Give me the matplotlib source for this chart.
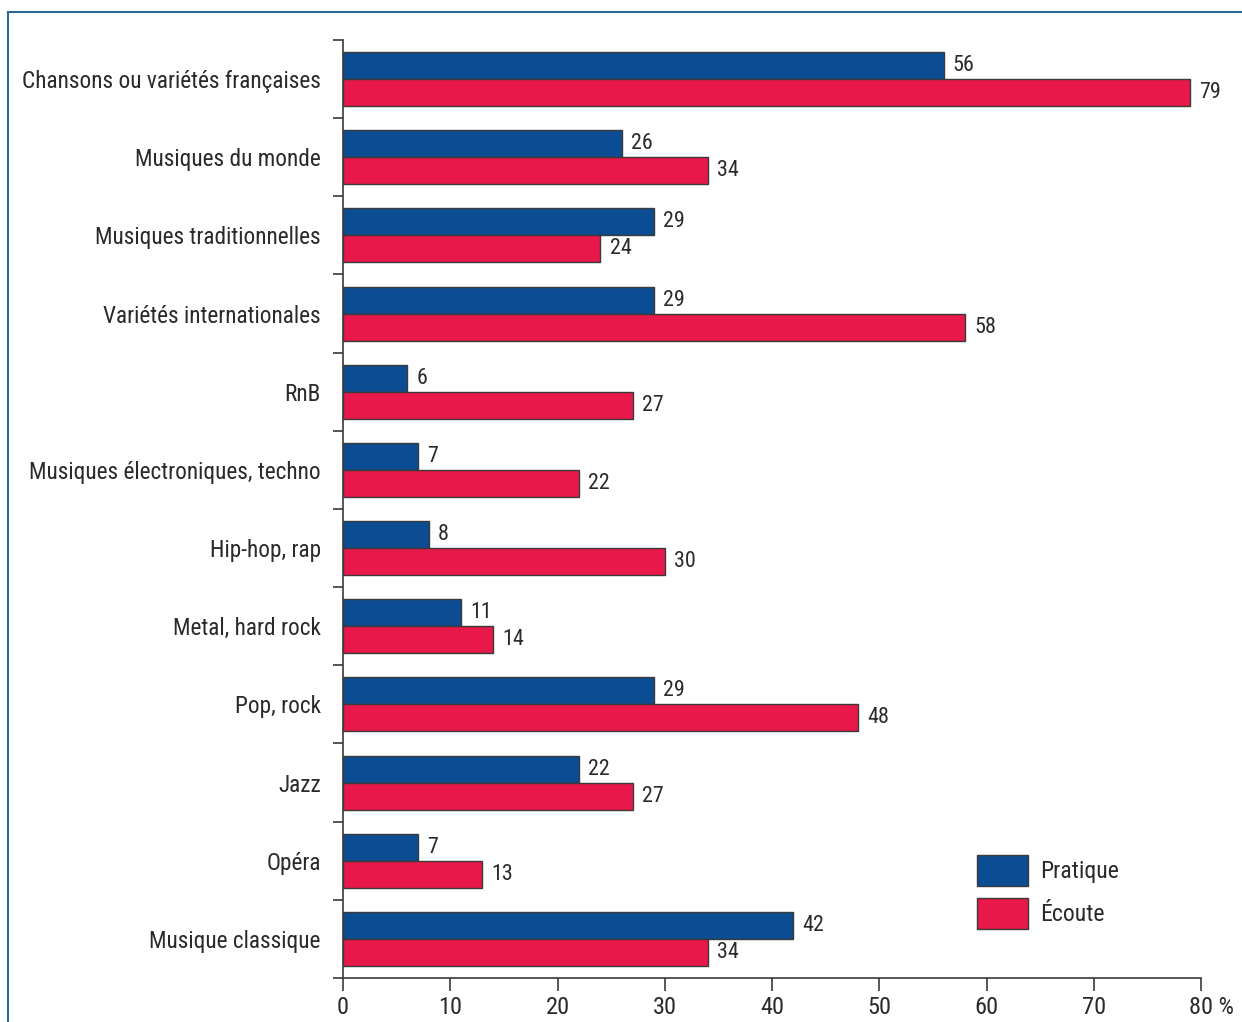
import matplotlib
matplotlib.use("Agg")
import matplotlib.pyplot as plt
from matplotlib.patches import Patch
from matplotlib.lines import Line2D
from matplotlib import font_manager
import matplotlib.transforms as mtransforms

categories = ["Chansons ou variétés françaises", "Musiques du monde", "Musiques traditionnelles",
              "Variétés internationales", "RnB", "Musiques électroniques, techno", "Hip-hop, rap",
              "Metal, hard rock", "Pop, rock", "Jazz", "Opéra", "Musique classique"]
pratique = [56, 26, 29, 29, 6, 7, 8, 11, 29, 22, 7, 42]
ecoute = [79, 34, 24, 58, 27, 22, 30, 14, 48, 27, 13, 34]
series_names = ["Pratique", "Écoute"]
xticks = [0, 10, 20, 30, 40, 50, 60, 70, 80]
xticklabels = ["0", "10", "20", "30", "40", "50", "60", "70", "80 %"]

# pick a condensed face if one is installed
fl = font_manager.fontManager.ttflist
fam, stretch = None, "normal"
for cand in ["Liberation Sans Narrow", "Roboto Condensed", "Open Sans Condensed", "Noto Sans Condensed"]:
    if any(f.name == cand for f in fl):
        fam = cand
        break
if fam is None:
    for f in fl:
        if f.name in ("DejaVu Sans", "Noto Sans", "Open Sans", "Roboto") and str(f.stretch) in ("condensed", "semi-condensed", "extra-condensed", "75", "87.5", "62.5"):
            fam, stretch = f.name, f.stretch
            break
if fam is None:
    fam = "Liberation Sans"
plt.rcParams["font.family"] = [fam, "DejaVu Sans"]
plt.rcParams["font.stretch"] = stretch

BLUE = "#0b4c93"
RED = "#e8194a"
EDGE = "#3a3a3a"
TXT = "#2a2a2a"

fig = plt.figure(figsize=(12.42, 10.22), dpi=100)
ax = fig.add_axes([343/1242, 44/1022, (1201-343)/1242, (978-40)/1022])

n = len(categories)
centers = [i + 0.5 for i in range(n)]
h = 0.345
ax.barh([c - h/2 for c in centers], pratique, height=h, color=BLUE, edgecolor=EDGE, linewidth=1.0)
ax.barh([c + h/2 for c in centers], ecoute, height=h, color=RED, edgecolor=EDGE, linewidth=1.0)

ax.set_xlim(0, 80)
ax.set_ylim(n, 0)
ax.set_yticks(range(n + 1))
ax.set_yticklabels([])
ax.set_yticks(centers, minor=True)
ylabels = ax.set_yticklabels(categories, minor=True, fontsize=18, color=TXT)
ax.tick_params(axis="y", which="major", length=7.5, width=1.2, color=EDGE, direction="out")
ax.tick_params(axis="y", which="minor", length=0, pad=16)
ax.set_xticks(xticks)
xl = ax.set_xticklabels(xticklabels, fontsize=18, color=TXT)
ax.tick_params(axis="x", length=9, width=1.2, color=EDGE, direction="out", pad=4)

# scale label font so the widest category label spans like the reference (~300 px)
renderer = fig.canvas.get_renderer()
w = ylabels[0].get_window_extent(renderer).width
fs_lab = 18 * 300.0 / w
for t in ylabels:
    t.set_fontsize(fs_lab)
fs_tick = min(18, fs_lab * 1.05)
for t in xl:
    t.set_fontsize(fs_tick)
fs_val = fs_lab * 0.95

for c, v in zip(centers, pratique):
    ax.text(v + 0.85, c - h/2, str(v), va="center", ha="left", fontsize=fs_val, color=TXT)
for c, v in zip(centers, ecoute):
    ax.text(v + 0.85, c + h/2, str(v), va="center", ha="left", fontsize=fs_val, color=TXT)

# keep "80" centred on its tick, with " %" trailing
last = xl[-1]
tmp = fig.text(0, 0, "80", fontsize=fs_tick)
w80 = tmp.get_window_extent(renderer).width
tmp.remove()
last.set_horizontalalignment("left")
last.set_transform(last.get_transform() + mtransforms.ScaledTranslation(-w80 / 2 / 100, 0, fig.dpi_scale_trans))

for s in ["top", "right"]:
    ax.spines[s].set_visible(False)
for s in ["left", "bottom"]:
    ax.spines[s].set_color(EDGE)
    ax.spines[s].set_linewidth(1.2)

fs_leg = fs_lab * 1.02
px = fs_leg * 100 / 72.0
hh = (31.0 / px - 0.245) / 0.65
handles = [Patch(facecolor=BLUE, edgecolor=EDGE, label=series_names[0]),
           Patch(facecolor=RED, edgecolor=EDGE, label=series_names[1])]
leg = fig.legend(handles=handles, loc="upper left", bbox_to_anchor=(977/1242, 1 - 855/1022),
                 frameon=False, fontsize=fs_leg, handlelength=51/px, handleheight=hh,
                 labelspacing=12/px, handletextpad=12/px, borderpad=0, borderaxespad=0)
for t in leg.get_texts():
    t.set_color(TXT)

frame_c = "#2b6a96"
fig.add_artist(Line2D([8/1242, 1.0], [1 - 12/1022, 1 - 12/1022], transform=fig.transFigure,
                      color=frame_c, linewidth=1.5))
fig.add_artist(Line2D([8/1242, 8/1242], [0.0, 1 - 12/1022], transform=fig.transFigure,
                      color=frame_c, linewidth=1.5))

fig.savefig("out.png", dpi=100)
